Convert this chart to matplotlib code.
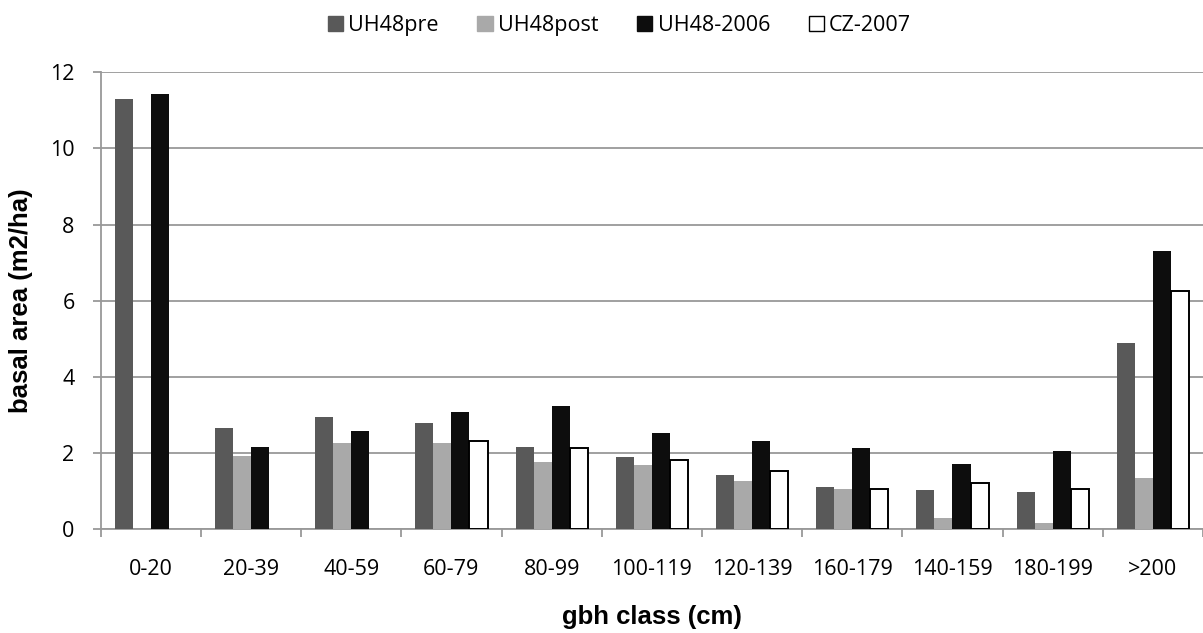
import numpy as np
import matplotlib.pyplot as plt
from matplotlib.patches import Patch

plt.rcParams['font.family'] = ['Open Sans', 'DejaVu Sans']

categories = ['0-20', '20-39', '40-59', '60-79', '80-99', '100-119', '120-139',
              '160-179', '140-159', '180-199', '>200']
uh48pre = [11.30, 2.66, 2.96, 2.79, 2.15, 1.89, 1.42, 1.11, 1.03, 0.97, 4.88]
uh48post = [0, 1.93, 2.27, 2.26, 1.76, 1.68, 1.28, 1.05, 0.30, 0.17, 1.35]
uh48_2006 = [11.42, 2.16, 2.59, 3.08, 3.24, 2.54, 2.32, 2.13, 1.72, 2.05, 7.30]
cz2007 = [0, 0, 0, 2.33, 2.13, 1.81, 1.53, 1.05, 1.22, 1.05, 6.25]

series = [('UH48pre', uh48pre, '#595959', '#595959'),
          ('UH48post', uh48post, '#a9a9a9', '#a9a9a9'),
          ('UH48-2006', uh48_2006, '#0d0d0d', '#0d0d0d'),
          ('CZ-2007', cz2007, 'white', 'black')]

fig = plt.figure(figsize=(12.03, 6.33), dpi=100)
ax = fig.add_axes([0.0837, 0.1638, 0.9163, 0.722])

x = np.arange(len(categories))
w = 0.18
handles = []
for i, (name, vals, fc, ec) in enumerate(series):
    vals = np.array(vals)
    pos = x + (i - 1.5) * w
    mask = vals > 0
    ax.bar(pos[mask], vals[mask], width=w, color=fc, edgecolor=ec,
           linewidth=1.4 if fc == 'white' else 0, zorder=3)
    handles.append(Patch(facecolor=fc, edgecolor=ec if fc == 'white' else fc,
                         linewidth=1.0, label=name))

ax.set_xlim(-0.5, len(categories) - 0.5)
ax.set_ylim(0, 12)
ax.set_yticks(range(0, 13, 2))
ax.yaxis.grid(True, color='#999999', linewidth=1.3, zorder=0)
ax.set_axisbelow(True)

ax.set_xticks(x)
ax.set_xticklabels(categories, fontsize=15.5)
ax.set_xticks(np.arange(-0.5, len(categories), 1), minor=True)
ax.tick_params(axis='x', which='major', length=0, pad=21.5)
ax.tick_params(axis='x', which='minor', length=5.8, color='#999999', width=1.3)
ax.tick_params(axis='y', length=5.8, color='#999999', width=1.3, labelsize=15.5, pad=13)

for s in ['top', 'right']:
    ax.spines[s].set_visible(False)
for s in ['left', 'bottom']:
    ax.spines[s].set_color('#999999')
    ax.spines[s].set_linewidth(1.3)

ax.set_ylabel('basal area (m2/ha)', fontsize=18.5, fontweight='bold',
              family=['Liberation Sans', 'DejaVu Sans'])
ax.yaxis.set_label_coords(-0.061, 0.5)
ax.set_xlabel('gbh class (cm)', fontsize=18.5, fontweight='bold',
              family=['Liberation Sans', 'DejaVu Sans'])
ax.xaxis.set_label_coords(0.5, -0.166)

fig.legend(handles=handles, loc='center', bbox_to_anchor=(0.515, 0.959), ncol=4,
           frameon=False, fontsize=15.5, handlelength=0.7, handleheight=0.7,
           handletextpad=0.25, columnspacing=1.8)

fig.savefig('out.png', dpi=100, facecolor='white')
